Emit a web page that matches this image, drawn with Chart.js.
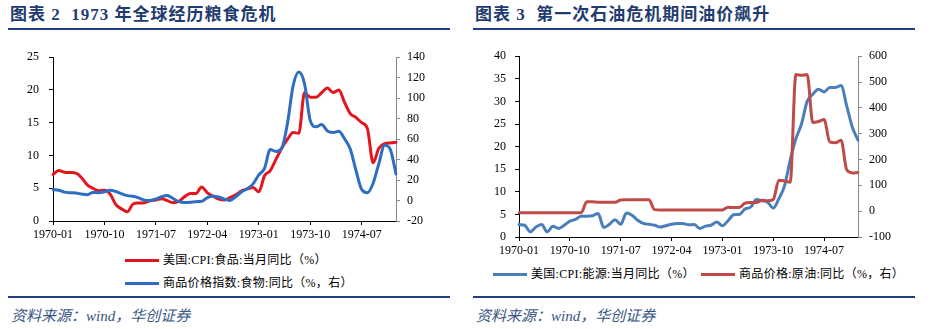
<!DOCTYPE html>
<html>
<head>
<meta charset="utf-8">
<script src="https://cdn.jsdelivr.net/npm/chart.js@4.4.1/dist/chart.umd.min.js"></script>
<style>
    body {
        margin: 0;
        width: 931px;
        height: 329px;
        background: #fff;
        position: relative;
        overflow: hidden;
        font-family: "Liberation Serif", "Noto Sans CJK SC", serif;
    }
    .panel { position: absolute; top: 0; width: 465px; height: 329px; }
    .title {
        position: absolute; left: 10px; top: 4px;
        font-size: 17px; line-height: 22px; font-weight: bold;
        letter-spacing: 1px; color: #1f3b70; white-space: pre;
    }
    .rule { position: absolute; left: 8px; width: 442px; background: #1f3f7f; }
    .src {
        position: absolute; left: 11px; top: 306px;
        font-size: 15px; line-height: 20px; font-style: italic;
        color: #3b5584; white-space: pre;
    }
    .leg {
        position: absolute; font-size: 12px; line-height: 16px; letter-spacing: 0.3px;
        white-space: nowrap; display: flex; align-items: center; color: #000;
    }
    .sw { display: inline-block; width: 34px; height: 3px; margin-right: 4px; }
    canvas { position: absolute; }
</style>
</head>
<body>

<div class="panel" style="left:0">
    <div class="title">图表 2  1973 年全球经历粮食危机</div>
    <div class="rule" style="top:28px;height:2px"></div>
    <canvas id="foodChart" width="465" height="206" style="left:0;top:40px"></canvas>
    <div class="leg" style="left:125px;top:252px"><span class="sw" style="background:#e3161e"></span>美国:CPI:食品:当月同比（%）</div>
    <div class="leg" style="left:125px;top:275px"><span class="sw" style="background:#2e6ec2"></span>商品价格指数:食物:同比（%，右）</div>
    <div class="rule" style="top:296px;height:2px"></div>
    <div class="src">资料来源：wind，华创证券</div>
</div>

<div class="panel" style="left:465px">
    <div class="title">图表 3  第一次石油危机期间油价飙升</div>
    <div class="rule" style="top:28px;height:2px"></div>
    <canvas id="oilChart" width="466" height="220" style="left:0;top:40px"></canvas>
    <div class="leg" style="left:28px;top:266px"><span class="sw" style="background:#4a7ebb"></span>美国:CPI:能源:当月同比（%）</div>
    <div class="leg" style="left:236px;top:266px"><span class="sw" style="background:#be4b48"></span>商品价格:原油:同比（%，右）</div>
    <div class="rule" style="top:296px;height:2px"></div>
    <div class="src">资料来源：wind，华创证券</div>
</div>

<script>
// Months shared by both charts (1970-01 .. 1975-01)
const months = [
    '1970-01','1970-02','1970-03','1970-04','1970-05','1970-06','1970-07','1970-08','1970-09','1970-10','1970-11','1970-12',
    '1971-01','1971-02','1971-03','1971-04','1971-05','1971-06','1971-07','1971-08','1971-09','1971-10','1971-11','1971-12',
    '1972-01','1972-02','1972-03','1972-04','1972-05','1972-06','1972-07','1972-08','1972-09','1972-10','1972-11','1972-12',
    '1973-01','1973-02','1973-03','1973-04','1973-05','1973-06','1973-07','1973-08','1973-09','1973-10','1973-11','1973-12',
    '1974-01','1974-02','1974-03','1974-04','1974-05','1974-06','1974-07','1974-08','1974-09','1974-10','1974-11','1974-12',
    '1975-01'
];

// Chart 2: US CPI food yoy (left axis), commodity food index yoy (right axis)
const cpiFood = [
    7.1, 7.7, 7.45, 7.4, 7.3, 6.6, 5.5, 5.0, 4.6, 4.7, 4.1, 2.5,
    1.85, 1.4, 2.6, 2.75, 2.8, 3.1, 3.2, 3.4, 3.1, 2.8, 3.0, 3.7,
    4.2, 4.2, 5.2, 4.3, 3.8, 3.35, 3.2, 3.6, 4.0, 4.6, 4.9, 5.1,
    4.45, 6.9, 7.7, 9.4, 11.1, 12.45, 13.5, 13.4, 19.6, 18.9, 18.9, 19.6,
    20.3, 19.6, 20.0, 18.1, 16.4, 15.8, 15.0, 14.1, 8.9, 11.1, 11.8, 11.9,
    12.0
];
const foodIndex = [
    10.7, 10.0, 8.2, 7.6, 7.3, 6.3, 5.7, 7.9, 7.6, 8.5, 10.0, 8.8,
    6.6, 4.8, 4.2, 2.6, 0.4, 0.1, 1.4, 3.8, 5.0, 2.0, -1.1, -2.0,
    -1.7, -1.1, -0.8, 2.9, 4.2, 3.4, 1.4, 0.1, 3.8, 8.5, 11.6, 16.3,
    25, 31.5, 49.8, 47.9, 51, 74.9, 112, 125.5, 114, 78, 72, 74.2,
    68, 66.5, 67.7, 60.3, 50.4, 29.3, 10.7, 7.6, 16.9, 36, 54, 50,
    26
];

// Chart 3: US CPI energy yoy (left axis), crude oil price yoy (right axis)
const cpiEnergy = [
    2.75, 2.6, 1.15, 2.2, 2.75, 1.15, 2.4, 1.9, 2.6, 3.5, 3.9, 4.6,
    4.6, 4.7, 5.2, 2.1, 2.8, 3.8, 2.8, 5.3, 4.8, 3.7, 3.0, 2.8,
    2.6, 2.2, 2.5, 2.8, 3.0, 3.0, 2.7, 2.75, 1.9, 2.4, 2.6, 3.3,
    2.5, 3.6, 4.9, 5.0, 6.2, 6.6, 8.3, 8.0, 7.7, 6.4, 8.5, 11.3,
    17.0, 21.7, 25.0, 30.0, 31.6, 32.7, 32.1, 33.1, 33.1, 33.5, 29.0, 24.3,
    21.4
];
const crudeOil = [
    -6, -6, -6, -6, -6, -6, -6, -6, -6, -6, -6, -6,
    36, 36, 35, 35, 35, 35, 43, 44, 44, 44, 44, 44,
    6, 5, 5, 5, 5, 5, 5, 5, 5, 5, 5, 5,
    5, 15, 14, 14, 31, 34, 34, 42, 40, 45, 120, 117,
    112, 529, 526, 529, 343, 347, 355, 268, 265, 275, 160, 148,
    150
];

const tickFont = { family: "'Liberation Serif', serif", size: 12 };

// Builds a dual axis line chart; sizes fix the plot area inside the canvas
function makeChart(id, series, left, right, sizes) {
    const ctx = document.getElementById(id).getContext('2d');
    return new Chart(ctx, {
        type: 'line',
        data: {
            labels: months,
            datasets: series.map(s => ({
                label: s.label,
                data: s.data,
                yAxisID: s.axis,
                borderColor: s.color,
                borderWidth: 3,
                pointRadius: 0,
                cubicInterpolationMode: 'monotone',
                borderJoinStyle: 'round',
                borderCapStyle: 'round',
                order: s.order,
                fill: false
            }))
        },
        options: {
            responsive: false,
            animation: false,
            devicePixelRatio: 1,
            layout: { padding: { top: sizes.top, left: 0, right: 0, bottom: 0 } },
            plugins: { legend: { display: false }, tooltip: { enabled: false } },
            scales: {
                x: {
                    type: 'category',
                    grid: { drawOnChartArea: false, tickLength: 4, color: '#000' },
                    border: { color: '#000' },
                    ticks: { autoSkip: false, maxRotation: 0, padding: 3, color: '#000', font: tickFont },
                    // one tick every 9 months, as in the original
                    afterBuildTicks: axis => { axis.ticks = axis.ticks.filter((t, i) => i % 9 === 0); },
                    afterFit: axis => { axis.height = sizes.bottom; }
                },
                y: {
                    position: 'left',
                    min: left.min, max: left.max,
                    grid: { drawOnChartArea: false, tickLength: 4, color: '#000' },
                    border: { color: '#000' },
                    ticks: { stepSize: left.step, padding: left.pad, color: '#000', font: tickFont },
                    afterFit: axis => { axis.width = sizes.left; }
                },
                y1: {
                    position: 'right',
                    min: right.min, max: right.max,
                    grid: { drawOnChartArea: false, tickLength: 4, color: '#888' },
                    border: { color: '#888' },
                    ticks: { stepSize: right.step, padding: 7, color: '#000', font: tickFont },
                    afterFit: axis => { axis.width = sizes.right; }
                }
            }
        }
    });
}

makeChart('foodChart', [
    { label: '美国:CPI:食品:当月同比（%）', data: cpiFood, axis: 'y', color: '#e3161e', order: 1 },
    { label: '商品价格指数:食物:同比（%，右）', data: foodIndex, axis: 'y1', color: '#2e6ec2', order: 0 }
], { min: 0, max: 25, step: 5, pad: 10 }, { min: -20, max: 140, step: 20 },
   { top: 9, left: 53, right: 69, bottom: 25 });

makeChart('oilChart', [
    { label: '美国:CPI:能源:当月同比（%）', data: cpiEnergy, axis: 'y', color: '#4a7ebb', order: 1 },
    { label: '商品价格:原油:同比（%，右）', data: crudeOil, axis: 'y1', color: '#be4b48', order: 0 }
], { min: 0, max: 40, step: 5, pad: 9 }, { min: -100, max: 600, step: 100 },
   { top: 12, left: 54, right: 73, bottom: 23 });
</script>
</body>
</html>
